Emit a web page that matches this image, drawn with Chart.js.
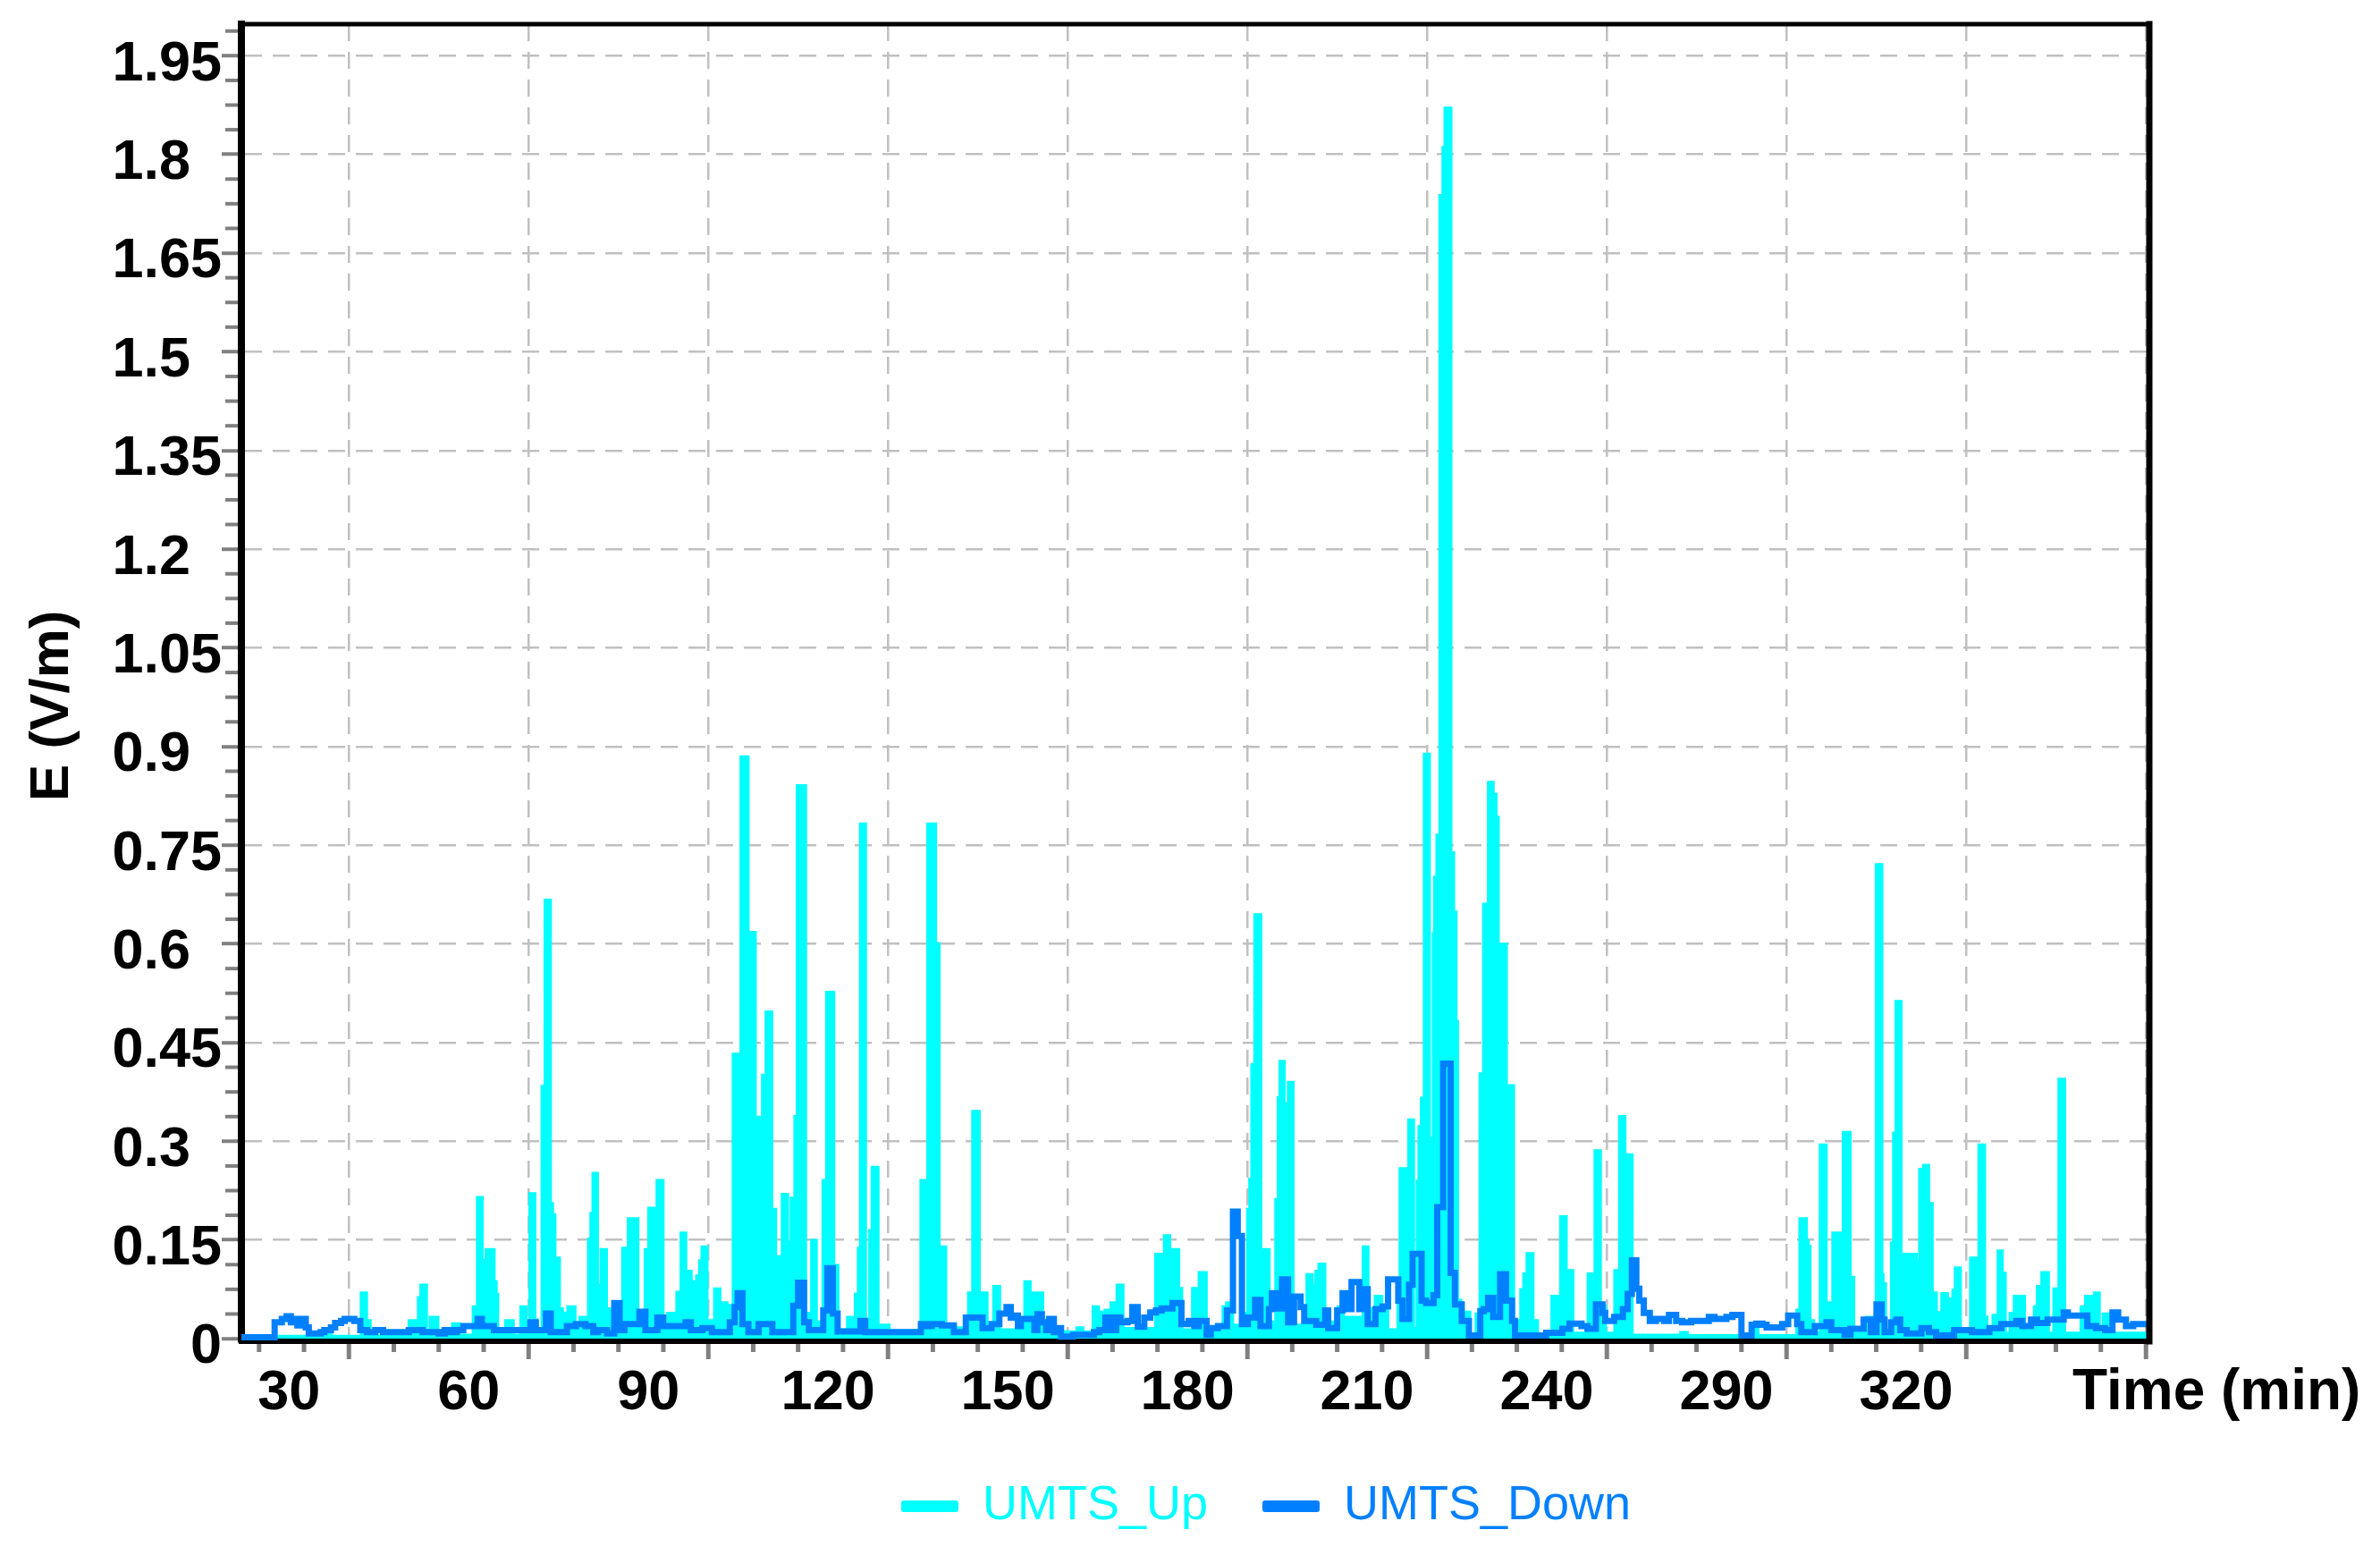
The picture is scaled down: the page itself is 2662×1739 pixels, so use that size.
<!DOCTYPE html>
<html><head><meta charset="utf-8">
<script src="https://cdn.jsdelivr.net/npm/chart.js@4.4.1/dist/chart.umd.min.js"></script>
<style>html,body{margin:0;padding:0;background:#fff;overflow:hidden}canvas{display:block}</style>
</head><body>
<canvas id="c" width="2662" height="1739"></canvas>
<script>
// ---------------- data (time in min, field in V/m) ----------------
const seriesNames = ['UMTS_Up', 'UMTS_Down'];
const xTickLabels = ['30','60','90','120','150','180','210','240','290','320'];
const yTickLabels = ['0','0.15','0.3','0.45','0.6','0.75','0.9','1.05','1.2','1.35','1.5','1.65','1.8','1.95'];
const xTitle = 'Time (min)';
const yTitle = 'E (V/m)';

const upTime = [12,25,27,32.1,32.9,33.5,40.1,41.1,41.65,42.05,42.9,43.6,44.8,47.35,48.5,50.8,51.5,52.2,52.95,54.2,54.55,54.8,56.2,57.4,58.75,59.55,60.25,61,61.4,62.3,62.8,63.6,63.95,64.35,65.1,65.6,66.35,66.6,67.7,68.6,69.55,70.05,70.45,70.8,71.45,72.15,72.95,73.55,74.3,74.9,75.75,76.7,78.2,79.5,80.1,80.9,81.5,82.4,83.3,84.4,84.8,85.5,86.2,87.1,87.6,88.1,88.6,89,89.75,91.1,91.9,93.1,93.7,94.2,95.15,95.5,96.6,97,97.8,98.1,98.4,99.1,99.7,100.55,101.2,102,102.4,103.2,103.9,104.5,104.9,106.2,107.3,108,109.2,109.8,110.9,111.6,113.3,114.3,114.6,115.1,115.45,116.2,117,117.4,118.3,120.15,125.55,126.3,126.7,127.9,128.5,128.9,129.6,133.5,134.2,135.2,136.5,137.7,138.6,142.9,143.7,144.7,144.95,145.8,151.6,152.5,154.3,155.1,156.3,157.3,158.3,159.2,164.75,165.7,166.2,167,167.5,168.5,169,170.9,171.7,172,173.1,176,176.6,177.5,179.1,180.1,180.45,180.8,181.3,182.2,182.8,183.6,184.8,185.2,185.5,186.1,186.9,187.6,190,190.8,191.5,192,192.9,195.2,196,199.4,200.1,201.4,202.4,203.4,205.2,205.55,206.6,207,207.7,208.4,208.7,209.1,209.6,210.35,211.1,211.3,211.7,212.2,212.7,213.05,213.95,214.4,214.8,215.05,215.6,217.1,218.25,218.9,219.5,220.3,221,221.5,221.85,222.2,223.2,223.55,224.4,225.7,226.2,226.75,227.65,228.4,230.9,231.85,232.35,233.2,233.5,234.3,236.95,237.8,238.1,238.9,239.75,241.4,242.2,243,243.35,244.2,252.4,253.4,264,265.2,271.8,272.3,273.3,273.6,273.9,274.5,275.7,276.6,277,277.8,279.2,279.55,280.6,281.2,283.4,284.4,285.05,285.9,286.1,286.5,287.6,287.95,288.35,289.1,289.7,290.5,290.8,291.65,292.3,292.95,293.7,294.3,295,296,296.85,297.25,297.85,298.25,299,300.8,301.8,302.2,303.05,303.45,304.55,305.4,306,306.5,307.4,308.1,309.7,311.45,311.95,312.7,313.7,314.7,315.55,316.4,319.25,320,321,321.5,322.2,322.95,324.2,330.6];
const upField = [0.003,0.006,0.003,0.069,0.027,0.004,0.027,0.01,0.062,0.081,0.01,0.032,0.005,0.022,0.005,0.048,0.214,0.119,0.135,0.086,0.067,0.015,0.027,0.005,0.048,0.01,0.22,0.028,0.012,0.383,0.666,0.205,0.188,0.122,0.045,0.038,0.015,0.048,0.02,0.032,0.01,0.151,0.19,0.251,0.081,0.135,0.045,0.01,0.045,0.02,0.137,0.182,0.025,0.135,0.198,0.146,0.24,0.02,0.038,0.01,0.07,0.16,0.102,0.02,0.086,0.095,0.118,0.139,0.027,0.075,0.054,0.01,0.05,0.432,0.285,0.884,0.49,0.617,0.07,0.194,0.336,0.4,0.496,0.196,0.124,0.013,0.219,0.146,0.213,0.337,0.84,0.038,0.149,0.025,0.24,0.526,0.111,0.013,0.032,0.013,0.067,0.137,0.782,0.025,0.164,0.26,0.02,0.012,0.24,0.114,0.782,0.6,0.064,0.139,0.016,0.069,0.345,0.069,0.01,0.079,0.013,0.086,0.069,0.013,0.069,0.01,0.016,0.01,0.048,0.04,0.043,0.054,0.081,0.015,0.128,0.086,0.156,0.057,0.135,0.076,0.013,0.076,0.025,0.1,0.01,0.048,0.054,0.02,0.038,0.196,0.242,0.416,0.644,0.118,0.135,0.025,0.211,0.366,0.421,0.357,0.389,0.02,0.097,0.081,0.102,0.113,0.025,0.048,0.032,0.139,0.045,0.064,0.048,0.013,0.082,0.258,0.015,0.332,0.015,0.239,0.322,0.365,0.888,0.304,0.615,0.701,0.765,1.737,1.81,1.87,0.738,0.648,0.482,0.058,0.04,0.005,0.037,0.402,0.66,0.845,0.827,0.792,0.255,0.599,0.357,0.384,0.027,0.074,0.098,0.129,0.027,0.005,0.064,0.027,0.185,0.079,0.103,0.008,0.098,0.076,0.285,0.049,0.008,0.103,0.337,0.005,0.279,0.005,0.009,0.004,0.015,0.004,0.043,0.182,0.149,0.14,0.027,0.008,0.294,0.032,0.054,0.16,0.156,0.313,0.093,0.008,0.032,0.008,0.72,0.097,0.083,0.008,0.145,0.312,0.512,0.076,0.128,0.06,0.128,0.118,0.257,0.263,0.205,0.069,0.039,0.068,0.06,0.051,0.073,0.107,0.008,0.122,0.081,0.294,0.032,0.008,0.035,0.133,0.099,0.008,0.038,0.064,0.012,0.048,0.079,0.1,0.008,0.075,0.394,0.008,0.048,0.064,0.032,0.069,0.008,0.037,0.008,0.008];

const downTime = [12,17.6,18.8,19.6,20.3,21,21.4,22.2,22.8,23.3,25.3,25.9,27,27.7,28.7,29.3,30.9,31.9,33,34.4,35.7,40,42.3,45,46,47,48,49.1,51.5,52.2,54.2,60.3,61.2,62.9,63.7,66.4,67.9,69.5,70.8,71.6,73.1,74.3,75.2,76,78.5,79.5,81.5,82.5,86.2,87.1,89,90.6,93.6,94.4,94.9,95.7,96.7,98.4,100.7,104.2,105,106,106.8,109.2,109.9,110.8,111.6,115.4,116.2,125.5,126.5,127.3,129,131,133,135.8,137.3,138.6,139.8,140.5,141,141.7,142.2,144.45,144.95,145.7,146.4,146.9,147.7,148.2,148.9,150.9,154.4,155.3,156.3,157.3,158.1,158.8,160,160.8,161.7,162.8,163.8,164.75,165.7,167.5,169,170.2,171.2,171.9,173.2,173.9,175.1,176.6,177.6,178.4,179.1,180.1,181.3,182.2,183.6,184.1,185,185.8,186.8,187.8,188.9,189.5,191.5,193,193.5,195,195.9,196.9,197.4,198.7,199.4,200.1,201.4,202.6,203.5,205.2,205.9,207,207.6,209.1,209.85,211.1,211.7,212.7,213.95,214.65,215.8,217,218.9,219.5,220.2,221.05,222.2,223.2,224.2,224.7,229.9,232.6,233.8,235.8,236.8,238.2,239.3,239.75,241.25,242.7,243.5,244.2,244.95,245.45,246.2,247.2,248.2,249.6,250.4,251.6,252.6,254.1,257.05,258,260,261,262.5,264.2,265,266,266.7,269.3,270.3,271.8,272.5,274.75,276.7,277.5,279.7,280.7,282.9,284.1,285.05,285.9,286.4,287.5,288.35,289,290.1,292.55,293.8,295,298,301,303.9,305.9,308.4,309.4,310.85,311.85,313.6,316.3,317,320.25,321.7,323.2,324.45,325.4,326.7,327.9,330.6];
const downField = [0.002,0.025,0.03,0.034,0.025,0.03,0.02,0.03,0.017,0.008,0.01,0.013,0.017,0.024,0.027,0.03,0.027,0.013,0.01,0.013,0.01,0.013,0.01,0.008,0.013,0.01,0.013,0.019,0.03,0.019,0.013,0.025,0.013,0.038,0.01,0.019,0.022,0.019,0.01,0.013,0.008,0.054,0.013,0.022,0.041,0.013,0.032,0.019,0.025,0.013,0.016,0.01,0.025,0.048,0.069,0.022,0.01,0.022,0.01,0.05,0.085,0.025,0.013,0.043,0.107,0.038,0.011,0.027,0.01,0.022,0.019,0.022,0.02,0.01,0.032,0.016,0.022,0.038,0.048,0.032,0.035,0.019,0.03,0.013,0.037,0.025,0.013,0.03,0.01,0.016,0.003,0.006,0.01,0.013,0.032,0.013,0.032,0.025,0.027,0.048,0.018,0.032,0.04,0.043,0.046,0.054,0.022,0.027,0.019,0.027,0.006,0.016,0.019,0.043,0.193,0.156,0.022,0.032,0.059,0.019,0.045,0.069,0.046,0.09,0.025,0.064,0.048,0.027,0.021,0.043,0.016,0.043,0.069,0.045,0.086,0.045,0.075,0.022,0.045,0.049,0.09,0.058,0.03,0.082,0.129,0.058,0.054,0.066,0.2,0.418,0.1,0.052,0.027,0.005,0.042,0.045,0.062,0.033,0.098,0.058,0.027,0.005,0.009,0.015,0.023,0.019,0.015,0.052,0.039,0.027,0.033,0.045,0.068,0.119,0.076,0.058,0.039,0.027,0.03,0.027,0.036,0.027,0.025,0.027,0.033,0.03,0.033,0.036,0.005,0.021,0.023,0.021,0.017,0.022,0.035,0.022,0.01,0.019,0.025,0.013,0.006,0.015,0.029,0.01,0.052,0.029,0.01,0.025,0.029,0.013,0.008,0.016,0.01,0.005,0.013,0.01,0.016,0.022,0.027,0.019,0.029,0.024,0.029,0.04,0.035,0.019,0.016,0.013,0.04,0.029,0.019,0.022,0.022];

// ---------------- styling ----------------
const FONT = "'Liberation Sans', Arial, Helvetica, sans-serif";
const CYAN = '#00FFFF', BLUE = '#0080FF';
const GRID = '#C0C0C0', TICKGRAY = '#808080';
const X_MAJOR = 30, X_MINOR = 7.5, Y_MAJOR = 0.15, Y_MINOR = 0.0375;

Chart.defaults.font.family = FONT;
Chart.defaults.color = '#000';

const toPoints = (ts, vs) => ts.map((t, i) => ({x: t, y: vs[i]}));
const padLabel = s => (s.length === 3 ? s + '  ' : s);

const framePlugin = {
  id: 'frame',
  afterDatasetsDraw(chart) {
    const {ctx, chartArea: a} = chart;
    ctx.save();
    ctx.strokeStyle = '#000';
    ctx.lineCap = 'square';
    ctx.lineWidth = 5;
    ctx.beginPath(); ctx.moveTo(a.left, a.top); ctx.lineTo(a.right, a.top); ctx.stroke();
    ctx.lineWidth = 7;
    ctx.beginPath(); ctx.moveTo(a.right, a.top); ctx.lineTo(a.right, a.bottom); ctx.stroke();
    ctx.restore();
  }
};

const minorTickPlugin = {
  id: 'minorTicks',
  afterDraw(chart) {
    const {ctx, chartArea: a, scales: {x, y}} = chart;
    ctx.save();
    ctx.strokeStyle = TICKGRAY;
    ctx.lineWidth = 4;
    for (let k = 1; ; k++) {
      const v = k * Y_MINOR;
      if (v > y.max) break;
      if (k % 4 === 0) continue;
      const py = y.getPixelForValue(v);
      ctx.beginPath(); ctx.moveTo(a.left - 18, py); ctx.lineTo(a.left - 4, py); ctx.stroke();
    }
    ctx.lineWidth = 5;
    for (let k = -8; ; k++) {
      const v = X_MAJOR + k * X_MINOR;
      if (v > x.max) break;
      if (v < x.min || ((k % 4) + 4) % 4 === 0) continue;
      const px = x.getPixelForValue(v);
      ctx.beginPath(); ctx.moveTo(px, a.bottom + 3); ctx.lineTo(px, a.bottom + 12); ctx.stroke();
    }
    ctx.restore();
  }
};

const timeLabelPlugin = {
  id: 'timeLabel',
  afterDraw(chart) {
    const {ctx, chartArea: a, scales: {x}} = chart;
    ctx.save();
    ctx.font = 'bold 64px ' + FONT;
    ctx.fillStyle = '#000';
    ctx.textAlign = 'left';
    ctx.textBaseline = 'middle';
    ctx.fillText(xTitle, a.right - 86, x.top + 21 + 37);
    ctx.restore();
  }
};

const legendShiftPlugin = {
  id: 'legendShift',
  afterLayout(chart) {
    const l = chart.legend;
    if (l) { l.left += 214; l.right += 214; }
  }
};

new Chart(document.getElementById('c'), {
  type: 'line',
  data: {
    datasets: [
      {label: seriesNames[0], data: toPoints(upTime, upField), borderColor: CYAN, backgroundColor: CYAN,
       borderWidth: 4, stepped: 'before', pointRadius: 0, fill: 'origin', order: 1},
      {label: seriesNames[1], data: toPoints(downTime, downField), borderColor: BLUE, backgroundColor: BLUE,
       borderWidth: 7, stepped: 'before', pointRadius: 0, fill: false, order: 0}
    ]
  },
  options: {
    responsive: false,
    animation: false,
    events: [],
    layout: {padding: {top: 27, right: 258, bottom: 17.6, left: 0}},
    scales: {
      x: {
        type: 'linear', min: 12.05, max: 330.6,
        ticks: {stepSize: X_MAJOR, includeBounds: false, autoSkip: false, maxRotation: 0, minRotation: 0,
                labelOffset: -67, padding: 1, font: {size: 63, weight: 'bold'}, color: '#000',
                callback: (v, i) => xTickLabels[i] ?? ''},
        grid: {color: GRID, lineWidth: 2.5, drawTicks: true, tickLength: 20, tickWidth: 5, tickColor: TICKGRAY, tickBorderDash: []},
        border: {display: true, color: '#000', width: 6, dash: [19, 12]},
        afterFit(s) { s.paddingLeft = 0; s.paddingRight = 0; s.height = 96.4; }
      },
      y: {
        type: 'linear', min: -0.004, max: 1.998,
        ticks: {stepSize: Y_MAJOR, includeBounds: false, autoSkip: false, labelOffset: 10, padding: 0,
                font: {size: 63, weight: 'bold'}, color: '#000',
                callback: (v, i) => padLabel(yTickLabels[i] ?? '')},
        grid: {color: GRID, lineWidth: 2.5, drawTicks: true, tickLength: 22, tickWidth: 4, tickColor: TICKGRAY, tickBorderDash: []},
        border: {display: true, color: '#000', width: 8, dash: [19, 12]},
        title: {display: true, text: yTitle + '   ', color: '#000', font: {size: 62, weight: 'bold'}, padding: {top: 22, bottom: 0}},
        afterFit(s) { s.width = 270; s.paddingTop = 0; s.paddingBottom = 0; }
      }
    },
    plugins: {
      tooltip: {enabled: false},
      legend: {
        display: true, position: 'bottom', align: 'center',
        labels: {
          boxWidth: 64, boxHeight: 13, padding: 61,
          font: {size: 54, weight: 'normal'},
          generateLabels: (chart) => chart.data.datasets.map((ds, i) => ({
            text: ds.label, fillStyle: ds.borderColor, strokeStyle: ds.borderColor,
            fontColor: ds.borderColor, lineWidth: 0, hidden: false, datasetIndex: i, borderRadius: 3
          }))
        }
      }
    }
  },
  plugins: [framePlugin, minorTickPlugin, timeLabelPlugin, legendShiftPlugin]
});
</script>
</body></html>
